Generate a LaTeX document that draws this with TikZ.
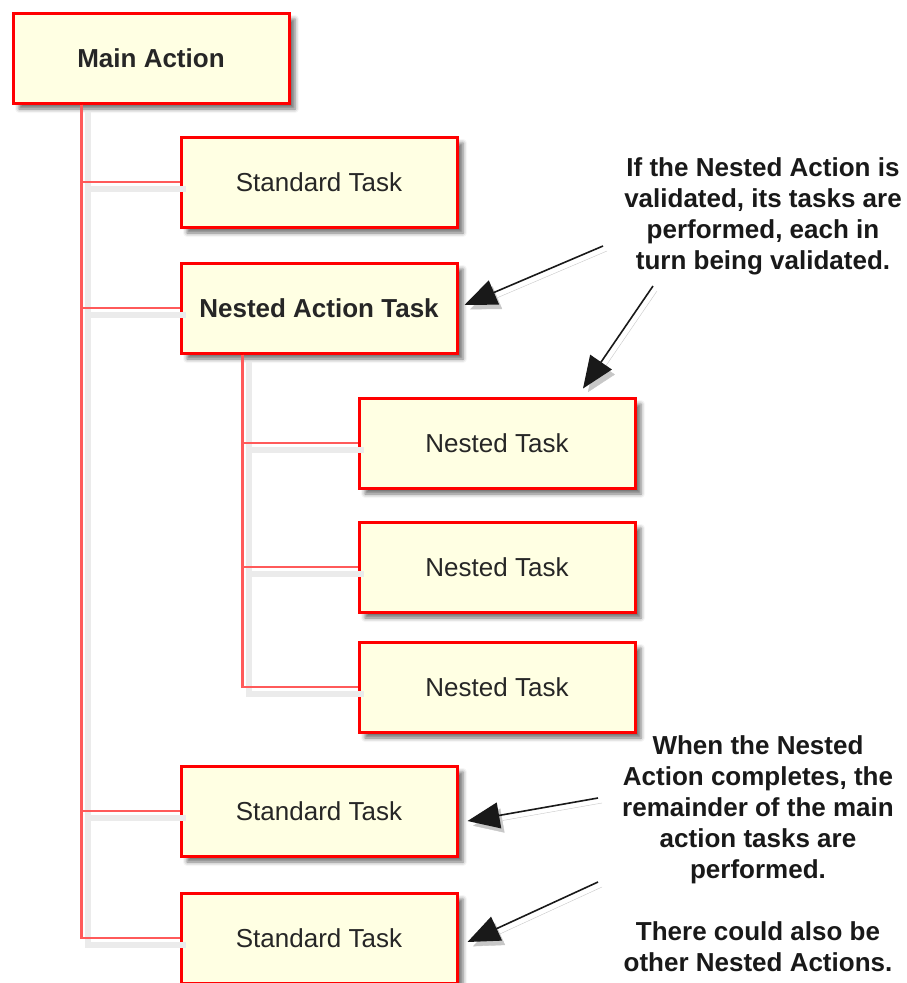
\documentclass[tikz,border=0pt]{standalone}
\usepackage{fontspec}
\setmainfont{Liberation Sans}
\usetikzlibrary{arrows.meta, shadows.blur}
\definecolor{tred}{HTML}{FF0000}
\definecolor{tlink}{HTML}{FF5A5A}
\definecolor{tfill}{HTML}{FFFFE3}
\definecolor{ttext}{HTML}{262626}
\tikzset{
  taskbox/.style={draw=tred, fill=tfill, line width=3pt,
                  minimum width=276pt, minimum height=90pt, text=ttext,
                  font=\fontsize{26pt}{31pt}\selectfont,
                  blur shadow={shadow xshift=6pt, shadow yshift=-6pt,
                               shadow blur radius=4pt, shadow opacity=55}},
  actbox/.style={taskbox, font=\fontsize{26pt}{31pt}\selectfont\bfseries},
  link/.style={draw=tlink, line width=2.2pt,
               preaction={draw=black!8, line width=6pt,
                          transform canvas={shift={(6pt,-7pt)}}}},
  note/.style={align=center, text=black!90,
               font=\fontsize{26pt}{31pt}\selectfont\bfseries},
  pointer/.style={-{Triangle[length=32pt,width=26pt]}, line width=1.6pt, black!90,
                  preaction={draw=black!22, transform canvas={shift={(4pt,-5pt)}}}},
}

\begin{document}
\begin{tikzpicture}[x=1pt, y=-1pt]
  \useasboundingbox (0,0) rectangle (906,983);

  % main action and its tasks
  \node[actbox]  (main) at (151,58)  {Main Action};
  \node[taskbox] (st1)  at (319,182) {Standard Task};
  \node[actbox]  (nat)  at (319,308) {Nested Action Task};
  \node[taskbox] (nt1)  at (497,443) {Nested Task};
  \node[taskbox] (nt2)  at (497,567) {Nested Task};
  \node[taskbox] (nt3)  at (497,687) {Nested Task};
  \node[taskbox] (st2)  at (319,811) {Standard Task};
  \node[taskbox] (st3)  at (319,938) {Standard Task};

  % tree lines, longest first so the shadows stay underneath
  \foreach \t in {st3,st2,nat,st1}
    \draw[link] ([xshift=70pt]main.south west) |- (\t.west);
  \foreach \t in {nt3,nt2,nt1}
    \draw[link] ([xshift=63pt]nat.south west) |- (\t.west);

  % notes
  \node[note] (note1) at (763,216) {If the Nested Action is\\validated, its tasks are\\performed, each in\\turn being validated.};
  \node[note] (note2) at (758,854) {When the Nested\\Action completes, the\\remainder of the main\\action tasks are\\performed.\\[31pt]There could also be\\other Nested Actions.};

  \coordinate (p1) at (603,246);
  \coordinate (p2) at (653,286);
  \coordinate (p3) at (598,798);
  \coordinate (p4) at (598,882);
  \draw[pointer] (p1) -- ([xshift=6pt,yshift=3pt]nat.east);
  \draw[pointer] (p2) -- ([xshift=86pt,yshift=8pt]nt1.north);
  \draw[pointer] (p3) -- ([xshift=9pt,yshift=-10pt]st2.east);
  \draw[pointer] (p4) -- ([xshift=9pt,yshift=-4pt]st3.east);
\end{tikzpicture}
\end{document}
